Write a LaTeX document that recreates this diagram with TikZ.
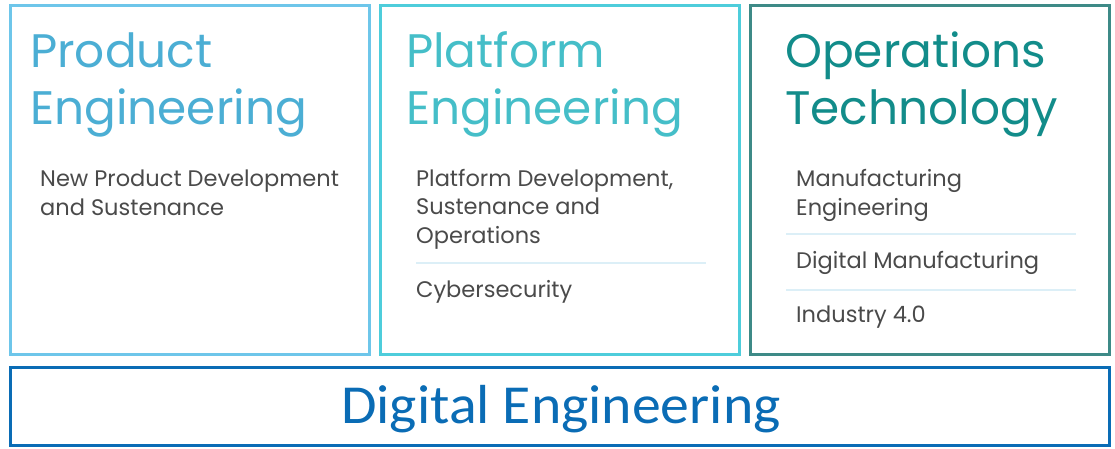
\documentclass[tikz,border=0pt]{standalone}
\usepackage{fontspec}
\setmainfont{Poppins}
\newfontfamily\narrowfont{Carlito}
\definecolor{peblue}{HTML}{6EC6EA}
\definecolor{petext}{HTML}{4BAED4}
\definecolor{plcyan}{HTML}{4ECDDB}
\definecolor{pltext}{HTML}{45BEC8}
\definecolor{otteal}{HTML}{3E8A87}
\definecolor{ottext}{HTML}{128C8A}
\definecolor{deblue}{HTML}{0A6CB5}
\definecolor{bodygray}{HTML}{4A4A4A}
\definecolor{sepline}{HTML}{DCEFF7}
\tikzset{
  panel/.style={draw, line width=3pt, inner sep=0pt, outer sep=0pt, minimum width=359pt, minimum height=349pt, anchor=north west},
  title/.style={anchor=base west, inner sep=0pt, align=left, font=\fontsize{47}{57}\selectfont},
  body/.style={anchor=base west, inner sep=0pt, align=left, text=bodygray, font=\fontsize{22.5}{28.5}\selectfont},
  sep/.style={draw=sepline, line width=1.2pt},
}
\begin{document}
\begin{tikzpicture}[x=1pt,y=-1pt]
\useasboundingbox (0,0) rectangle (1115,449);
% panels
\node[panel, draw=peblue] (pe) at (10.5,5.5) {};
\node[panel, draw=plcyan] (pl) at (380.5,5.5) {};
\node[panel, draw=otteal] (ot) at (750.5,5.5) {};
\node[draw=deblue, line width=3pt, inner sep=0pt, outer sep=0pt, minimum width=1099pt, minimum height=78pt, anchor=north west] (de) at (10.5,367.5) {};
% titles (anchored at the baseline of the last line)
\node[title, text=petext] (pet) at (30,125) {Product\\Engineering};
\node[title, text=pltext] (plt) at (406,125) {Platform\\Engineering};
\node[title, text=ottext] (ott) at (785,125) {Operations\\Technology};
\node[anchor=base, inner sep=0pt, text=deblue, font=\narrowfont\fontsize{55}{60}\selectfont] (det) at (561,423) {\scalebox{1.05}[1]{Digital Engineering}};
% body items
\node[body] (pe1) at (40,215) {New Product Development\\and Sustenance};
\node[body] (pl1) at (416,243) {Platform Development,\\Sustenance and\\Operations};
\node[body] (pl2) at (416,297) {Cybersecurity};
\node[body] (ot1) at (796,215) {Manufacturing\\Engineering};
\node[body] (ot2) at (796,268) {Digital Manufacturing};
\node[body] (ot3) at (796,322) {Industry 4.0};
% separators
\coordinate (s1a) at (416,263); \coordinate (s1b) at (706,263);
\coordinate (s2a) at (786,234); \coordinate (s2b) at (1076,234);
\coordinate (s3a) at (786,290); \coordinate (s3b) at (1076,290);
\draw[sep] (s1a) -- (s1b);
\draw[sep] (s2a) -- (s2b);
\draw[sep] (s3a) -- (s3b);
\end{tikzpicture}
\end{document}
